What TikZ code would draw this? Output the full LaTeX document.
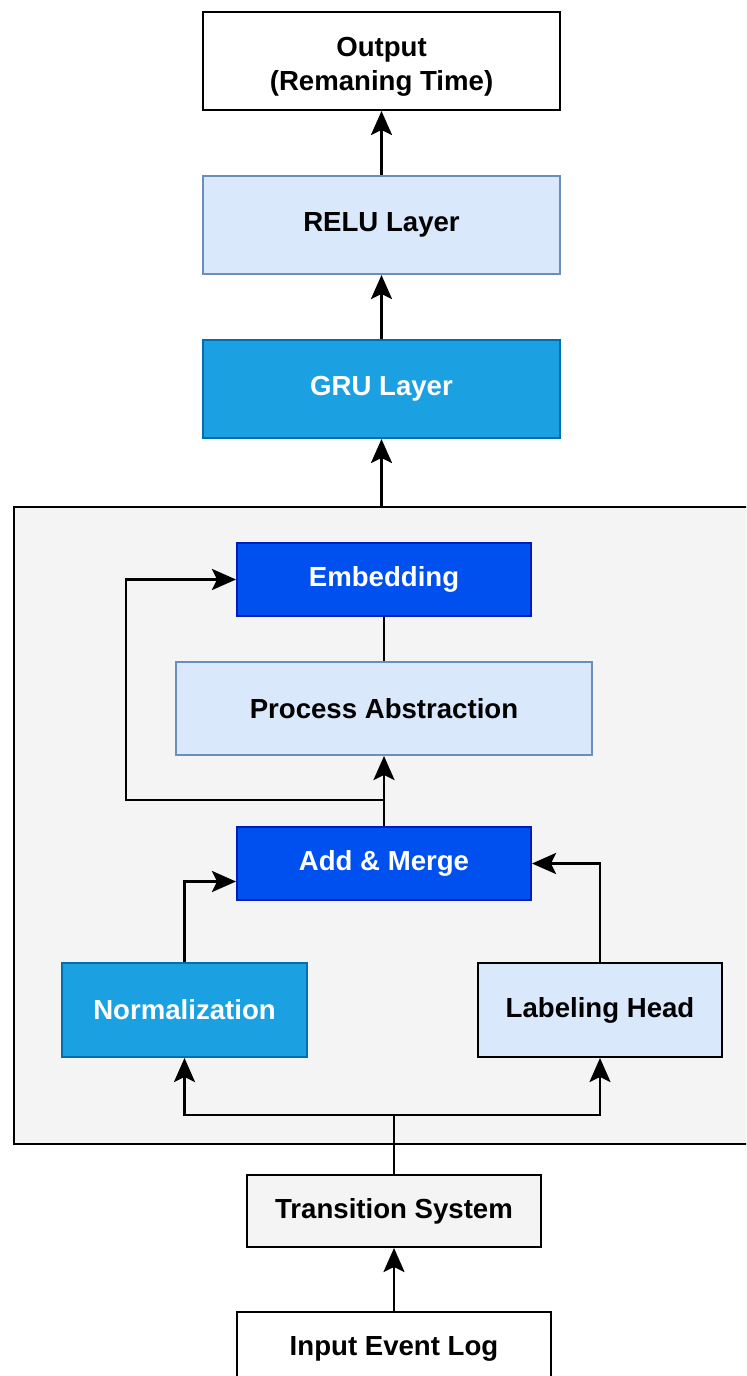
\documentclass[tikz,border=0pt]{standalone}
\usepackage{fontspec}
\setmainfont{Liberation Sans}
\usetikzlibrary{arrows.meta,positioning}

\definecolor{paleblue}{HTML}{DAE8FC}
\definecolor{paleblueline}{HTML}{6C8EBF}
\definecolor{skyblue}{HTML}{1BA1E2}
\definecolor{skyblueline}{HTML}{006EAF}
\definecolor{deepblue}{HTML}{0050EF}
\definecolor{deepblueline}{HTML}{001DBC}
\definecolor{panelgrey}{HTML}{F4F4F4}

\begin{document}
\begin{tikzpicture}[
    x=0.5pt, y=-0.5pt,
    node distance=32pt,
    >={Stealth[length=12pt,width=10.5pt,inset=2.5pt]},
    every node/.style={font=\fontsize{13.8}{17}\selectfont\bfseries},
    box/.style={
        draw,
        line width=1pt,
        align=center,
        inner sep=0pt,
        minimum width=178.5pt,
        minimum height=49pt
    },
    plainbox/.style={box, fill=white, draw=black},
    palebox/.style={box, fill=paleblue, draw=paleblueline},
    skybox/.style={box, fill=skyblue, draw=skyblueline, text=white},
    deepbox/.style={box, fill=deepblue, draw=deepblueline, text=white,
        minimum width=147pt, minimum height=36.5pt},
    line/.style={->, line width=1.3pt}
]
\useasboundingbox (0,0) rectangle (746,1376);
\clip (0,0) rectangle (746,1376);

% Encoder panel
\node[draw=black, fill=panelgrey, line width=1pt, inner sep=0pt,
      minimum width=378pt, minimum height=318.5pt] (panel) at (392,825.5) {};

% Output stack
\node[plainbox] (output) at (381.5,61) {\rule{0pt}{15pt}Output\\(Remaning Time)};
\node[palebox, below=of output] (relu) {RELU Layer};
\node[skybox, below=of relu] (gru) {GRU Layer};

% Inside the panel
\node[deepbox] (emb) at (384,579.5) {Embedding};
\node[palebox, below=22pt of emb, minimum width=208pt, minimum height=46.5pt] (abstr)
{Process Abstraction};
\node[deepbox, below=35pt of abstr] (merge) {Add \& Merge};

\node[skybox, minimum width=122.5pt, minimum height=47pt] (norm) at (184.5,1010)
{Normalization};
\node[palebox, draw=black, minimum width=122pt, minimum height=47pt] (label) at (600,1010)
{Labeling Head};

% Inputs
\node[box, fill=panelgrey, draw=black, minimum width=147pt, minimum height=36pt] (trans)
at (394,1211) {Transition System};
\node[plainbox, below=31.5pt of trans, minimum width=157pt, minimum height=37pt] (input)
{Input Event Log};

% Arrows
\coordinate (split) at (394,1115);
\coordinate (bend) at (126,800);

\draw[line] (input) -- (trans);
\draw[line width=1.3pt] (trans.north) -- (split);
\draw[line] (split) -| (norm.south);
\draw[line] (split) -| (label.south);

\draw[line] (norm.north) |- ([yshift=-9pt]merge.west);
\draw[line] (label.north) |- (merge.east);

\draw[line] (merge) -- (abstr);
\draw[line] (merge.north |- bend) -- (bend) |- (emb.west);
\draw[line width=1.3pt] (abstr) -- (emb);

\draw[line] (panel.north -| gru.south) -- (gru.south);
\draw[line] (gru) -- (relu);
\draw[line] (relu) -- (output);

\end{tikzpicture}
\end{document}
